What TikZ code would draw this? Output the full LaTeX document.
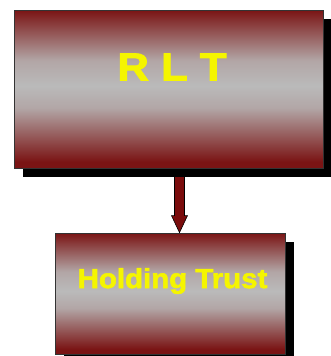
\documentclass[tikz,border=0pt]{standalone}
\usepackage{fontspec}
\setmainfont{Liberation Sans}
\newfontfamily\heavyfont[FakeBold=2]{Liberation Sans Bold}
\usetikzlibrary{shadows,backgrounds,calc}
\definecolor{boxred}{HTML}{7A1414}
\definecolor{boxgray}{HTML}{BABABA}
\definecolor{arrowred}{HTML}{7A0C0C}
\definecolor{labelyellow}{HTML}{F5F500}
% dark red at the edges, a soft grey band in the middle
\pgfdeclareverticalshading{boxshade}{100bp}{%
  color(0bp)=(boxred); color(27bp)=(boxred);
  color(44bp)=(boxgray!88!boxred); color(51bp)=(boxgray);
  color(59bp)=(boxgray!88!boxred); color(75bp)=(boxred); color(100bp)=(boxred)}
\tikzset{
  entity/.style={rectangle, draw=black!80, line width=0.8pt,
    shading=boxshade,
    drop shadow={shadow xshift=9pt, shadow yshift=-9pt, fill=black, opacity=1},
    inner sep=0pt},
  caption/.style={text=labelyellow, inner sep=0pt},
  link/.style={fill=arrowred, draw=black, line width=0.6pt, line join=miter}
}
\begin{document}
\begin{tikzpicture}[x=1pt, y=-1pt]
  \useasboundingbox (0,0) rectangle (331,356);
  % the two boxes
  \node[entity, minimum width=309pt, minimum height=158pt] (rlt) at (168.5,89) {};
  \node[entity, minimum width=230pt, minimum height=121pt] (ht) at (170,293.5) {};
  % their captions
  \node[caption, font=\heavyfont\fontsize{39}{39}\selectfont, xscale=1.12]
    (rltlabel) at (172,67) {R L T};
  \node[caption, font=\heavyfont\fontsize{27.5}{28}\selectfont, xscale=1.07]
    (htlabel) at (172.5,281) {Holding Trust};
  % connector, drawn beneath the boxes
  \coordinate (tip) at ([xshift=9.5pt]ht.north);
  \coordinate (tail) at (tip |- rlt.south);
  \begin{scope}[on background layer]
    \draw[link] ([xshift=-5pt]tail) -- ([shift={(-5pt,17pt)}]tip)
      -- ([shift={(-8pt,17pt)}]tip) -- (tip) -- ([shift={(8pt,17pt)}]tip)
      -- ([shift={(5pt,17pt)}]tip) -- ([xshift=5pt]tail) -- cycle;
  \end{scope}
\end{tikzpicture}
\end{document}
